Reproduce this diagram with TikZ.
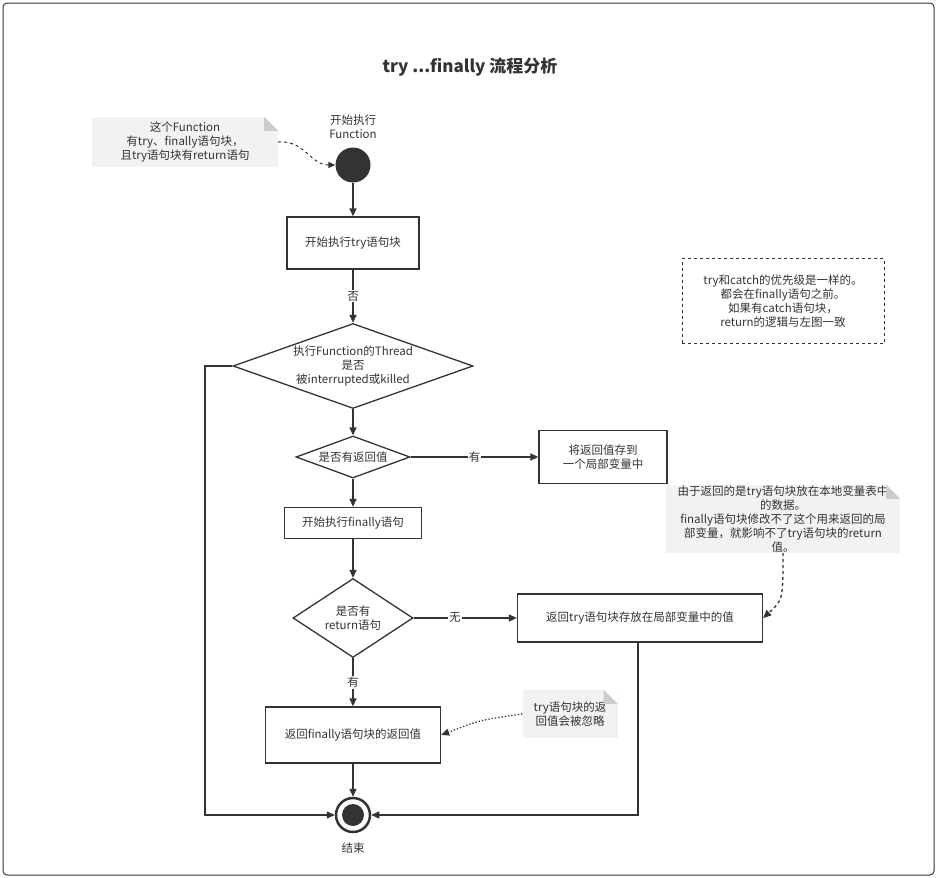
\documentclass[tikz,border=0pt]{standalone}
\usepackage{fontspec}
\setmainfont{Noto Sans CJK SC}
\usetikzlibrary{shapes.geometric,arrows.meta}
\definecolor{ink}{HTML}{333333}
\definecolor{notegray}{HTML}{F2F2F2}
\newcommand{\Txt}{\fontsize{11.5}{14}\selectfont}
\tikzset{
    Box/.style={draw=ink, line width=1.3pt, inner sep=0pt, align=center, text=ink, font=\Txt},
    Decide/.style={draw=ink, diamond, line width=1.3pt, inner sep=0pt, align=center, text=ink, font=\Txt},
    Note/.style={fill=notegray, inner sep=0pt, align=center, text=ink, font=\Txt},
    Flow/.style={draw=ink, line width=1.3pt, -{Triangle[length=8pt,width=7pt]}},
    Tag/.style={fill=white, text=ink, font=\Txt, inner sep=1pt},
}
\newcommand{\Fold}[2]{\fill[white] ($(#1.north east)+(-14,0)$) -- (#1.north east) -- ($(#1.north east)+(0,14)$) -- cycle;
    \fill[black!20] ($(#1.north east)+(-14,0)$) -- ($(#1.north east)+(-14,14)$) -- ($(#1.north east)+(0,14)$) -- cycle;}
\usetikzlibrary{calc}
\begin{document}
\begin{tikzpicture}[x=1pt, y=-1pt]
    \useasboundingbox (0,0) rectangle (938,878);
    \draw[ink, line width=1pt, rounded corners=4pt] (3,3) rectangle (934,875);
    \node[text=ink, font=\fontsize{17}{20}\selectfont\bfseries] (title) at (470,67) {try ...finally 流程分析};
    % start
    \node[Note, minimum width=186pt, minimum height=50pt] (note1) at (185,142) {这个Function\\有try、finally语句块，\\且try语句块有return语句};
    \Fold{note1}{}
    \node[circle, fill=ink, minimum size=35pt, inner sep=0pt] (start) at (353,165) {};
    \node[text=ink, font=\Txt, align=center] (startlbl) at (353,127) {开始执行\\Function};
    \draw[ink, line width=1pt, dashed, -{Triangle[length=7pt,width=6pt]}] (note1.east) .. controls (305,140) and (310,165) .. (start.west);
    \node[Box, minimum width=132pt, minimum height=52pt] (trybox) at (353,243) {开始执行try语句块};
    \node[Decide, minimum width=240pt, minimum height=85pt, aspect=2.8] (killed) at (353,366) {执行Function的Thread\\是否\\被interrupted或killed};
    \node[Decide, minimum width=114pt, minimum height=42pt, aspect=2.7] (hasret) at (353,457) {是否有返回值};
    \node[Box, minimum width=128pt, minimum height=53pt] (store) at (603,457) {将返回值存到\\一个局部变量中};
    \node[Box, minimum width=137pt, minimum height=31pt] (fin) at (353,523) {开始执行finally语句};
    \node[Decide, minimum width=120pt, minimum height=79pt, aspect=1.5] (finret) at (353,618) {是否有\\return语句};
    \node[Box, minimum width=245pt, minimum height=48pt] (trystore) at (640,618) {返回try语句块存放在局部变量中的值};
    \node[Box, minimum width=175pt, minimum height=56pt] (finval) at (353,735) {返回finally语句块的返回值};
    \node[circle, draw=ink, line width=2.5pt, minimum size=34pt, inner sep=0pt] (stop) at (353,815) {};
    \fill[ink] (stop) circle (11pt);
    \node[text=ink, font=\Txt] (stoplbl) at (353,848) {结束};
    % notes
    \node[draw=ink, dashed, text=ink, font=\Txt, align=center, minimum width=202pt, minimum height=85pt] (note2) at (783,301) {try和catch的优先级是一样的。\\都会在finally语句之前。\\如果有catch语句块，\\return的逻辑与左图一致};
    \node[Note, text width=234pt, minimum height=68pt] (note3) at (783,519) {由于返回的是try语句块放在本地变量表中\\的数据。\\finally语句块修改不了这个用来返回的局\\部变量，就影响不了try语句块的return\\值。};
    \Fold{note3}{}
    \node[Note, minimum width=95pt, minimum height=48pt] (note4) at (570,714) {try语句块的返\\回值会被忽略};
    \Fold{note4}{}
    % flow
    \draw[Flow] (start) -- (trybox);
    \draw[Flow] (trybox) -- node[Tag] {否} (killed);
    \draw[Flow] (killed) -- (hasret);
    \draw[Flow] (hasret) -- node[Tag] {有} (store);
    \draw[Flow] (hasret) -- (fin);
    \draw[Flow] (fin) -- (finret);
    \draw[Flow] (finret) -- node[Tag, pos=0.4] {无} (trystore);
    \draw[Flow] (finret) -- node[Tag] {有} (finval);
    \draw[Flow] (finval) -- (stop);
    \draw[Flow] (killed.west) -- (205,366) -- (205,815) -- (stop.west);
    \draw[Flow] (638,642) -- (638,815) -- (stop.east);
    \draw[ink, line width=1.3pt, dashed, -{Triangle[length=8pt,width=7pt]}] (783,553) .. controls (783,600) .. (trystore.east);
    \draw[ink, line width=1.3pt, dotted, -{Triangle[length=8pt,width=7pt]}] (note4.west) .. controls (480,720) .. (finval.east);
\end{tikzpicture}
\end{document}
